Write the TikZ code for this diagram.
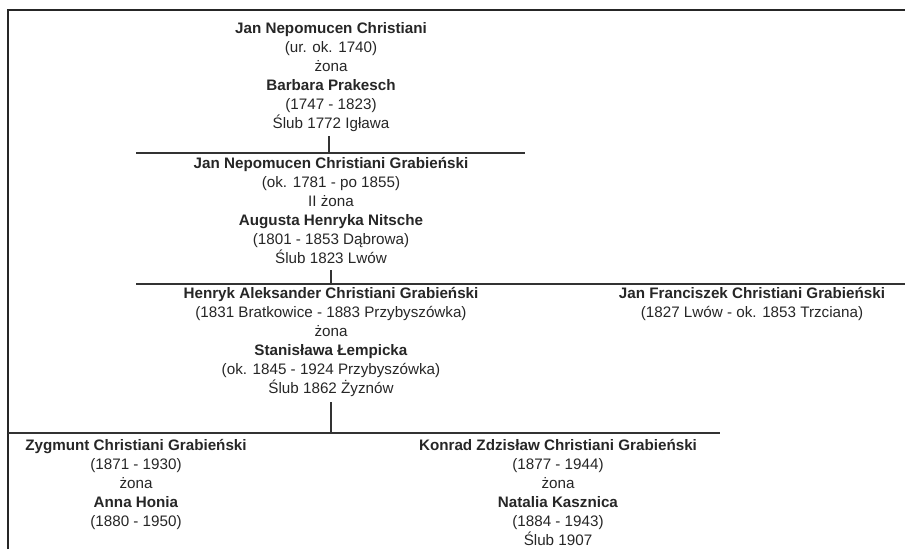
\documentclass[tikz,border=0pt]{standalone}
\usepackage{fontspec}
\setmainfont{Liberation Sans}
\begin{document}
\begin{tikzpicture}[x=1pt,y=-1pt,
  person/.style={align=center, font=\fontsize{15.2}{19}\selectfont, text=black!85, inner sep=0pt},
  link/.style={line width=1.6pt, draw=black!80},
  frameline/.style={line width=1.4pt, draw=black!85}]
\useasboundingbox (0,0) rectangle (905,549);
% frame
\coordinate (fbl) at (8,549);
\coordinate (ftl) at (8,10);
\coordinate (ftr) at (905,10);
\draw[frameline] (fbl) -- (ftl) -- (ftr);
% people
\node[person] (a) at (331,77.5) {\textbf{Jan Nepomucen Christiani}\\(ur. ok. 1740)\\żona\\\textbf{Barbara Prakesch}\\(1747 - 1823)\\Ślub 1772 Igława};
\node[person] (b) at (331,210.5) {\textbf{Jan Nepomucen Christiani Grabieński}\\(ok. 1781 - po 1855)\\II żona\\\textbf{Augusta Henryka Nitsche}\\(1801 - 1853 Dąbrowa)\\Ślub 1823 Lwów};
\node[person] (c) at (331,342) {\textbf{Henryk Aleksander Christiani Grabieński}\\(1831 Bratkowice - 1883 Przybyszówka)\\żona\\\textbf{Stanisława Łempicka}\\(ok. 1845 - 1924 Przybyszówka)\\Ślub 1862 Żyznów};
\node[person] (d) at (752,304) {\textbf{Jan Franciszek Christiani Grabieński}\\(1827 Lwów - ok. 1853 Trzciana)};
\node[person] (e) at (136,484) {\textbf{Zygmunt Christiani Grabieński}\\(1871 - 1930)\\żona\\\textbf{Anna Honia}\\(1880 - 1950)};
\node[person] (f) at (558,492.5) {\textbf{Konrad Zdzisław Christiani Grabieński}\\(1877 - 1944)\\żona\\\textbf{Natalia Kasznica}\\(1884 - 1943)\\Ślub 1907};
% generation 1 -> 2
\coordinate (v1t) at (329,136);
\coordinate (h1l) at (136,153);
\coordinate (h1r) at (525,153);
\draw[link] (v1t) -- (v1t |- h1l);
\draw[link] (h1l) -- (h1r);
% generation 2 -> 3
\coordinate (v2t) at (331,270);
\coordinate (h2l) at (136,284);
\coordinate (h2r) at (905,284);
\draw[link] (v2t) -- (v2t |- h2l);
\draw[link] (h2l) -- (h2r);
% generation 3 -> 4
\coordinate (v3t) at (331,402);
\coordinate (h3l) at (8,433);
\coordinate (h3r) at (720,433);
\draw[link] (v3t) -- (v3t |- h3l);
\draw[link] (h3l) -- (h3r);
\end{tikzpicture}
\end{document}
